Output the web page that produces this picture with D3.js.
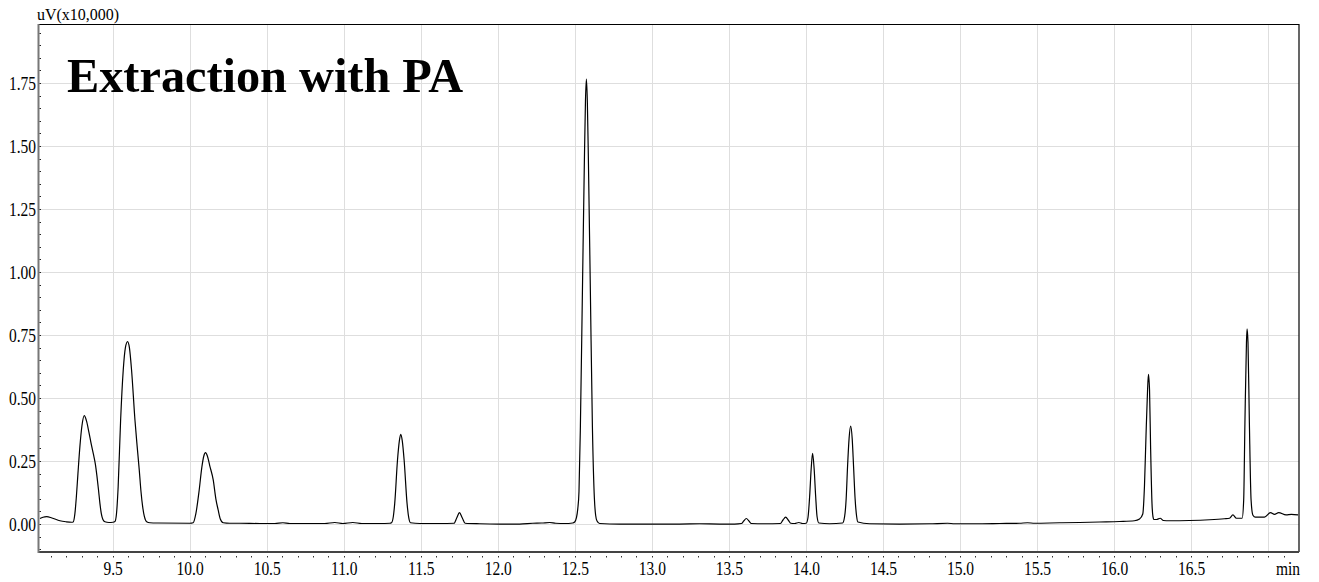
<!DOCTYPE html>
<html>
<head>
<meta charset="utf-8">
<script src="https://cdn.jsdelivr.net/npm/d3@7"></script>
<style>
  html, body { margin: 0; padding: 0; background: #fff; }
  svg { display: block; }
  text { font-family: "Liberation Serif", "Times New Roman", serif; fill: #000; }
</style>
</head>
<body>
<svg id="chart" width="1319" height="582"></svg>
<script>
// ---- data (retention time in min, signal in uV x10,000) ----
const retentionTime = [
  9.028,9.048,9.072,9.106,9.158,9.197,9.234,
  9.244,9.255,9.265,9.275,9.288,9.301,9.316,9.330,9.346,9.362,9.375,9.388,9.398,9.408,9.418,9.427,9.437,9.450,9.476,9.502,
  9.515,9.525,9.536,9.552,9.569,9.583,9.597,9.609,9.623,9.645,9.659,9.673,9.684,9.695,9.706,9.721,9.742,9.794,
  10.001,10.023,10.040,10.062,10.079,10.092,10.103,10.115,10.131,10.153,10.170,10.185,10.199,10.218,10.261,
  10.326,10.456,10.553,10.605,10.650,10.780,10.877,10.942,10.994,11.059,11.117,11.234,11.299,
  11.310,11.322,11.331,11.349,11.361,11.370,11.380,11.392,11.411,11.422,11.433,11.494,
  11.623,11.716,11.734,11.751,11.769,11.788,11.883,
  12.013,12.142,12.227,12.285,12.337,12.376,12.434,12.486,
  12.499,12.510,12.519,12.527,12.536,12.549,12.562,12.569,12.575,12.581,12.588,12.601,12.614,12.627,12.635,12.644,12.661,
  12.791,12.986,13.180,13.310,13.440,13.537,13.581,
  13.596,13.613,13.630,13.646,13.732,13.834,
  13.851,13.868,13.886,13.901,13.927,13.954,13.978,14.001,
  14.013,14.024,14.034,14.043,14.053,14.063,14.072,14.084,14.154,
  14.238,14.251,14.261,14.270,14.280,14.290,14.300,14.309,14.319,14.329,14.337,14.413,
  14.608,14.802,14.919,14.965,15.127,15.257,15.386,15.438,15.484,15.646,15.775,15.905,16.035,16.132,16.165,
  16.186,16.197,16.207,16.217,16.223,16.230,16.237,16.246,16.252,16.258,
  16.275,16.299,16.320,16.359,16.489,16.619,16.716,16.749,16.771,16.794,16.831,
  16.841,16.849,16.859,16.863,16.869,16.878,16.889,16.901,
  16.917,16.976,17.015,17.041,17.068,17.116,17.151,17.194
];
const signal = [
  0.022,0.027,0.029,0.024,0.013,0.009,0.007,
  0.008,0.04,0.11,0.2,0.31,0.39,0.43,0.41,0.365,0.315,0.278,0.238,0.192,0.138,0.08,0.04,0.018,0.009,0.006,0.007,
  0.01,0.04,0.148,0.413,0.611,0.70,0.724,0.70,0.611,0.413,0.31,0.214,0.13,0.069,0.03,0.009,0.005,0.004,
  0.003,0.005,0.04,0.135,0.225,0.27,0.283,0.27,0.23,0.175,0.1,0.056,0.02,0.005,0.003,
  0.003,0.002,0.002,0.005,0.002,0.002,0.002,0.006,0.002,0.006,0.002,0.002,0.003,
  0.005,0.03,0.082,0.254,0.33,0.356,0.33,0.254,0.082,0.025,0.005,0.002,
  0.002,0.003,0.025,0.045,0.025,0.003,0.001,
  0.0,0.0,0.003,0.004,0.006,0.003,0.002,0.004,
  0.008,0.024,0.06,0.13,0.386,0.915,1.444,1.68,1.765,1.68,1.444,0.915,0.386,0.1,0.035,0.012,0.002,
  0.0,0.0,0.0,0.001,0.0,0.0,0.002,
  0.012,0.022,0.012,0.002,0.001,0.002,
  0.016,0.027,0.015,0.003,0.002,0.006,0.002,0.003,
  0.025,0.11,0.22,0.28,0.22,0.11,0.03,0.004,0.001,
  0.004,0.03,0.1,0.228,0.34,0.389,0.34,0.228,0.1,0.03,0.008,0.001,
  0.0,0.001,0.003,0.001,0.001,0.002,0.003,0.005,0.003,0.005,0.006,0.008,0.01,0.013,0.02,
  0.04,0.15,0.35,0.53,0.594,0.53,0.3,0.08,0.03,0.018,
  0.018,0.023,0.014,0.013,0.014,0.017,0.021,0.023,0.036,0.023,0.023,
  0.095,0.4,0.72,0.774,0.72,0.4,0.095,0.035,
  0.027,0.027,0.045,0.038,0.045,0.036,0.038,0.036
];
const xTickValues = [9.5,10.0,10.5,11.0,11.5,12.0,12.5,13.0,13.5,14.0,14.5,15.0,15.5,16.0,16.5];
const xGridValues = [9.5,10.0,10.5,11.0,11.5,12.0,12.5,13.0,13.5,14.0,14.5,15.0,15.5,16.0,16.5,17.0];
const yTickValues = [0.00,0.25,0.50,0.75,1.00,1.25,1.50,1.75];
const xDomain = [9.019, 17.2];
const yDomain = [-0.111, 1.984];
const titleText = "Extraction with PA";
const yUnitText = "uV(x10,000)";
const xUnitText = "min";

// ---- layout ----
const plot = { left: 38.5, right: 1299, top: 24, bottom: 552 };
const svg = d3.select("#chart");
svg.append("rect").attr("width", 1319).attr("height", 582).attr("fill", "#fff");

const x = d3.scaleLinear().domain(xDomain).range([plot.left, plot.right]);
const y = d3.scaleLinear().domain(yDomain).range([plot.bottom, plot.top]);

// grid
const grid = svg.append("g").attr("stroke", "#dedede").attr("stroke-width", 1);
grid.selectAll("line.v").data(xGridValues).enter().append("line")
  .attr("x1", d => Math.round(x(d)) + 0.5).attr("x2", d => Math.round(x(d)) + 0.5)
  .attr("y1", plot.top).attr("y2", plot.bottom);
grid.selectAll("line.h").data(yTickValues).enter().append("line")
  .attr("y1", d => Math.round(y(d)) + 0.5).attr("y2", d => Math.round(y(d)) + 0.5)
  .attr("x1", plot.left).attr("x2", plot.right);

// trace
const pts = retentionTime.map((t, i) => [t, signal[i]]);
const line = d3.line().x(d => x(d[0])).y(d => y(d[1])).curve(d3.curveMonotoneX);
svg.append("path").datum(pts).attr("d", line)
  .attr("fill", "none").attr("stroke", "#000").attr("stroke-width", 1.2)
  .attr("stroke-linejoin", "round");

// frame
svg.append("line").attr("x1", plot.left).attr("x2", plot.right).attr("y1", plot.top + 0.5).attr("y2", plot.top + 0.5)
  .attr("stroke", "#000").attr("stroke-width", 1.2);
svg.append("line").attr("x1", plot.right).attr("x2", plot.right).attr("y1", plot.top).attr("y2", plot.bottom)
  .attr("stroke", "#000").attr("stroke-width", 1.2);
svg.append("line").attr("x1", plot.left).attr("x2", plot.right).attr("y1", plot.bottom).attr("y2", plot.bottom)
  .attr("stroke", "#444").attr("stroke-width", 1.8);
svg.append("line").attr("x1", plot.left).attr("x2", plot.left).attr("y1", plot.top).attr("y2", plot.bottom + 1)
  .attr("stroke", "#777").attr("stroke-width", 2);

// minor ticks
const yMinor = d3.range(-0.10, 1.96, 0.05);
svg.append("g").selectAll("line").data(yMinor).enter().append("line")
  .attr("x1", plot.left + 1).attr("x2", plot.left + 2.5)
  .attr("y1", d => Math.round(y(d)) + 0.5).attr("y2", d => Math.round(y(d)) + 0.5)
  .attr("stroke", "#222").attr("stroke-width", 1);
const xMinor = d3.range(9.1, 17.15, 0.1);
svg.append("g").selectAll("line").data(xMinor).enter().append("line")
  .attr("x1", d => Math.round(x(d)) + 0.5).attr("x2", d => Math.round(x(d)) + 0.5)
  .attr("y1", plot.bottom + 4).attr("y2", plot.bottom + 5.5)
  .attr("stroke", "#333").attr("stroke-width", 1);

// axis labels through d3 axes
const xAxis = d3.axisBottom(x).tickValues(xTickValues).tickFormat(d3.format(".1f")).tickSize(0).tickPadding(0);
const gx = svg.append("g").attr("transform", `translate(0,${plot.bottom})`).call(xAxis);
gx.select(".domain").remove();
gx.selectAll("text")
  .attr("font-family", "Liberation Serif, serif").attr("font-size", 15.5)
  .attr("fill", "#000").attr("dy", null).attr("y", null)
  .attr("transform", "translate(0,23) scale(1,1.25)");

const yAxis = d3.axisLeft(y).tickValues(yTickValues).tickFormat(d3.format(".2f")).tickSize(0).tickPadding(0);
const gy = svg.append("g").attr("transform", `translate(${plot.left - 2.5},0)`).call(yAxis);
gy.select(".domain").remove();
gy.selectAll("text")
  .attr("font-family", "Liberation Serif, serif").attr("font-size", 15.5)
  .attr("fill", "#000").attr("dy", null).attr("x", null)
  .attr("transform", "translate(0,6.8) scale(1,1.22)");

// unit labels
svg.append("text").attr("transform", "translate(37,19.5) scale(1,1.1)")
  .attr("font-size", 16).text(yUnitText);
svg.append("text").attr("transform", `translate(${plot.right + 1},575) scale(1,1.25)`)
  .attr("text-anchor", "end").attr("font-size", 15.5).text(xUnitText);

// title
svg.append("text").attr("x", 67).attr("y", 92)
  .attr("font-size", 48.3).attr("font-weight", "bold").text(titleText);
</script>
</body>
</html>
